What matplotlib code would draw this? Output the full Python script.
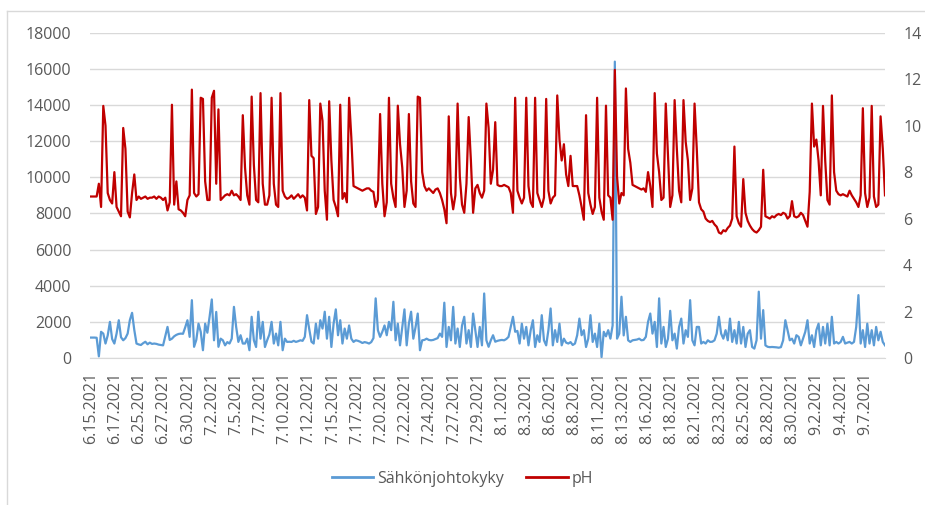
import matplotlib
matplotlib.use("Agg")
import matplotlib.pyplot as plt
from matplotlib.lines import Line2D

# ---------------- data ----------------
date_labels = ["6.15.2021", "6.17.2021", "6.25.2021", "6.27.2021", "6.30.2021",
               "7.2.2021", "7.5.2021", "7.7.2021", "7.10.2021", "7.12.2021",
               "7.15.2021", "7.17.2021", "7.20.2021", "7.22.2021", "7.24.2021",
               "7.27.2021", "7.29.2021", "8.1.2021", "8.3.2021", "8.6.2021",
               "8.8.2021", "8.11.2021", "8.13.2021", "8.16.2021", "8.18.2021",
               "8.21.2021", "8.23.2021", "8.25.2021", "8.28.2021", "8.30.2021",
               "9.2.2021", "9.4.2021", "9.7.2021"]

conductivity = [
    1130, 1130, 1130, 1120, 90, 1450, 1350, 800, 1250, 2000,
    1050, 800, 1350, 2090, 1150, 980, 1100, 1350, 2100, 2500,
    1550, 800, 750, 720, 820, 900, 760, 850, 780, 800,
    780, 740, 720, 700, 1200, 1720, 1000, 1070, 1200, 1280,
    1330, 1350, 1340, 1700, 2090, 1170, 3200, 620, 1000, 1900,
    1450, 430, 1900, 1400, 2280, 3240, 980, 2550, 620, 1070,
    980, 700, 880, 800, 1070, 2830, 1720, 890, 1260, 800,
    800, 1070, 430, 2280, 980, 610, 2560, 1070, 2000, 610,
    980, 1300, 2000, 800, 1350, 700, 2000, 430, 1070, 890,
    900, 890, 950, 890, 930, 980, 950, 1170, 2370, 1600,
    900, 800, 1900, 1070, 2090, 1630, 2560, 1070, 2280, 610,
    1900, 2690, 1260, 2090, 800, 1630, 1070, 1800, 1070, 890,
    980, 950, 900, 830, 880, 850, 800, 880, 1100, 3300,
    1540, 1170, 1450, 1800, 1260, 2000, 1540, 3110, 980, 1900,
    700, 1720, 2690, 700, 1900, 2560, 1070, 1700, 2460, 430,
    980, 1000, 1070, 1000, 980, 1000, 1050, 1100, 1350, 1170,
    3060, 610, 1720, 980, 2830, 800, 1630, 610, 1800, 2280,
    800, 1540, 610, 2460, 1540, 610, 1720, 700, 3570, 980,
    620, 980, 1260, 900, 950, 980, 1000, 980, 1050, 1170,
    1720, 2280, 1450, 1500, 800, 1900, 1070, 1720, 700, 1540,
    2090, 610, 1260, 890, 2370, 980, 700, 1540, 2740, 700,
    1540, 890, 1900, 700, 1070, 850, 800, 880, 720, 800,
    1260, 2180, 1260, 1540, 610, 1070, 2370, 890, 1350, 610,
    1900, 50, 1450, 1200, 1540, 1070, 1800, 16400, 1070, 1350,
    3390, 1250, 2280, 980, 890, 980, 1000, 1020, 1070, 980,
    1000, 1170, 2000, 2460, 1350, 2000, 610, 3300, 800, 1720,
    610, 1070, 2610, 980, 1350, 520, 1720, 2180, 800, 1540,
    1170, 3200, 980, 700, 1720, 1720, 800, 890, 800, 980,
    890, 900, 980, 1350, 2280, 1350, 1070, 1540, 980, 2180,
    890, 1540, 800, 2000, 800, 1720, 610, 1350, 1540, 610,
    520, 980, 3670, 1070, 2650, 700, 620, 600, 610, 600,
    590, 570, 600, 980, 2090, 1540, 980, 1070, 800, 1260,
    1170, 700, 1070, 1450, 2090, 800, 1260, 610, 1540, 1900,
    700, 1720, 800, 1900, 700, 2280, 800, 890, 800, 890,
    1170, 800, 850, 890, 800, 890, 1720, 3480, 800, 1540,
    610, 1900, 800, 1540, 700, 1720, 980, 1450, 890, 700,
]

ph = [
    6.95, 6.95, 6.95, 6.95, 7.5, 6.5, 10.85, 10.0, 7.1, 6.8,
    6.65, 8.0, 6.5, 6.3, 6.1, 9.9, 9.0, 6.3, 6.05, 7.1,
    7.9, 6.8, 6.95, 6.85, 6.9, 6.95, 6.85, 6.9, 6.9, 6.95,
    6.85, 6.95, 6.9, 6.8, 6.9, 6.35, 6.7, 10.9, 6.6, 7.6,
    6.4, 6.35, 6.25, 6.1, 6.8, 7.0, 11.55, 7.1, 6.95, 7.05,
    11.2, 11.15, 7.6, 6.8, 6.8, 11.2, 11.5, 7.5, 10.7, 6.8,
    6.9, 7.0, 7.05, 7.0, 7.2, 7.0, 7.05, 6.95, 6.8, 10.45,
    8.2, 7.0, 6.6, 11.25, 8.3, 6.8, 6.7, 11.4, 7.5, 6.6,
    6.6, 7.0, 11.2, 7.5, 6.6, 6.5, 11.4, 7.2, 6.95, 6.85,
    6.9, 7.0, 6.85, 6.95, 7.05, 6.9, 7.0, 6.9, 6.35, 11.1,
    8.7, 8.6, 6.2, 6.5, 10.95, 10.2, 7.2, 5.95, 11.05, 8.5,
    6.8, 6.5, 6.1, 10.9, 6.85, 7.1, 6.7, 11.2, 9.5, 7.4,
    7.35, 7.3, 7.25, 7.2, 7.25, 7.3, 7.3, 7.2, 7.15, 6.5,
    6.8, 10.5, 7.5, 6.1, 6.7, 11.2, 7.5, 6.9, 6.5, 10.86,
    9.2, 8.2, 6.5, 7.2, 10.5, 7.6, 6.65, 6.5, 11.25, 11.2,
    8.0, 7.4, 7.2, 7.3, 7.2, 7.1, 7.25, 7.3, 7.1, 6.8,
    6.4, 5.8, 10.4, 7.1, 6.4, 7.0, 10.95, 7.8, 6.6, 6.25,
    7.5, 10.37, 8.5, 6.25, 7.3, 7.45, 7.1, 6.9, 7.2, 10.95,
    9.9, 7.5, 8.1, 10.15, 7.45, 7.4, 7.4, 7.45, 7.4, 7.35,
    7.1, 6.25, 11.2, 7.2, 6.9, 6.65, 6.9, 11.2, 7.4, 6.7,
    6.5, 11.2, 7.1, 6.8, 6.5, 6.9, 11.15, 7.2, 6.65, 6.9,
    7.0, 11.3, 9.4, 8.5, 9.2, 7.9, 7.4, 8.7, 7.4, 7.4,
    7.4, 7.0, 6.5, 5.95, 10.45, 7.1, 6.6, 6.2, 6.5, 11.2,
    6.9, 6.3, 5.95, 10.86, 7.0, 6.9, 5.95, 12.4, 7.8, 6.65,
    7.1, 7.0, 11.6, 9.0, 8.4, 7.45, 7.4, 7.35, 7.3, 7.25,
    7.3, 7.15, 8.0, 7.4, 6.5, 11.4, 8.8, 8.0, 6.8, 6.9,
    10.95, 8.7, 6.5, 7.0, 11.1, 9.0, 7.2, 6.7, 11.1, 9.3,
    8.5, 6.8, 7.3, 10.95, 9.0, 6.7, 6.4, 6.3, 6.0, 5.9,
    5.85, 5.9, 5.75, 5.65, 5.4, 5.35, 5.5, 5.45, 5.6, 5.7,
    6.0, 9.1, 6.1, 5.8, 5.65, 7.7, 6.25, 5.9, 5.7, 5.55,
    5.45, 5.4, 5.5, 5.65, 8.1, 6.1, 6.05, 6.0, 6.1, 6.05,
    6.15, 6.2, 6.15, 6.25, 6.2, 6.0, 6.1, 6.75, 6.1, 6.05,
    6.1, 6.25, 6.15, 5.9, 5.65, 7.15, 10.95, 9.1, 9.4, 8.5,
    7.0, 10.85, 8.5, 6.8, 6.6, 11.3, 8.0, 7.2, 7.05, 7.0,
    7.05, 7.0, 6.95, 7.2, 7.0, 6.85, 6.7, 6.5, 7.0, 10.75,
    7.1, 6.5, 6.9, 10.85, 6.95, 6.5, 6.6, 10.4, 9.0, 7.0,
]

series_names = ["Sähkönjohtokyky", "pH"]

# ---------------- style ----------------
FONT = "Open Sans"
TXT = "#595959"
GRID = "#D9D9D9"
BLUE = "#5B9BD5"
RED = "#C00000"
FS = 11.5

plt.rcParams["font.family"] = [FONT, "DejaVu Sans"]

fig = plt.figure(figsize=(9.25, 5.05), dpi=100)
ax = fig.add_axes([90 / 925, 1 - 358 / 505, 795 / 925, (358 - 32.7) / 505])
ax2 = ax.twinx()

x = list(range(len(conductivity)))
ax.plot(x, conductivity, color=BLUE, lw=1.6, solid_joinstyle="round")
ax2.plot(x, ph, color=RED, lw=1.6, solid_joinstyle="round")

ax.set_xlim(0, len(conductivity) - 1)
ax.set_ylim(0, 18000)
ax.set_yticks(range(0, 18001, 2000))
ax2.set_ylim(0, 14)
ax2.set_yticks(range(0, 15, 2))

ax.grid(axis="y", color=GRID, lw=1.0)
ax.set_axisbelow(True)

tick_step = (865 - 91) / 32 / (795 / (len(conductivity) - 1))
tick_pos = [0.45 + i * tick_step for i in range(len(date_labels))]
ax.set_xticks(tick_pos)
ax.set_xticklabels(date_labels, rotation=90, fontsize=FS, color=TXT)

for a in (ax, ax2):
    for s in a.spines.values():
        s.set_visible(False)
    a.tick_params(length=0)
ax.spines["bottom"].set_visible(True)
ax.spines["bottom"].set_color(GRID)

ax.tick_params(axis="y", labelsize=FS, labelcolor=TXT, pad=13.5)
ax.tick_params(axis="x", pad=10)
ax2.tick_params(axis="y", labelsize=FS, labelcolor=TXT, pad=13)

handles = [Line2D([], [], color=BLUE, lw=2), Line2D([], [], color=RED, lw=2)]
fig.legend(handles, series_names, loc="center", bbox_to_anchor=(0.5, 1 - 479 / 505),
           ncol=2, frameon=False, fontsize=FS, labelcolor=TXT,
           handlelength=2.6, handletextpad=0.25, columnspacing=1.4)

# chart border (left and top edges visible)
fig.add_artist(Line2D([6.5 / 925, 6.5 / 925], [0, 1 - 10.5 / 505], color=GRID, lw=1.0,
                      transform=fig.transFigure))
fig.add_artist(Line2D([6.5 / 925, 1], [1 - 10.5 / 505, 1 - 10.5 / 505], color=GRID, lw=1.0,
                      transform=fig.transFigure))

fig.savefig("out.png", dpi=100)
